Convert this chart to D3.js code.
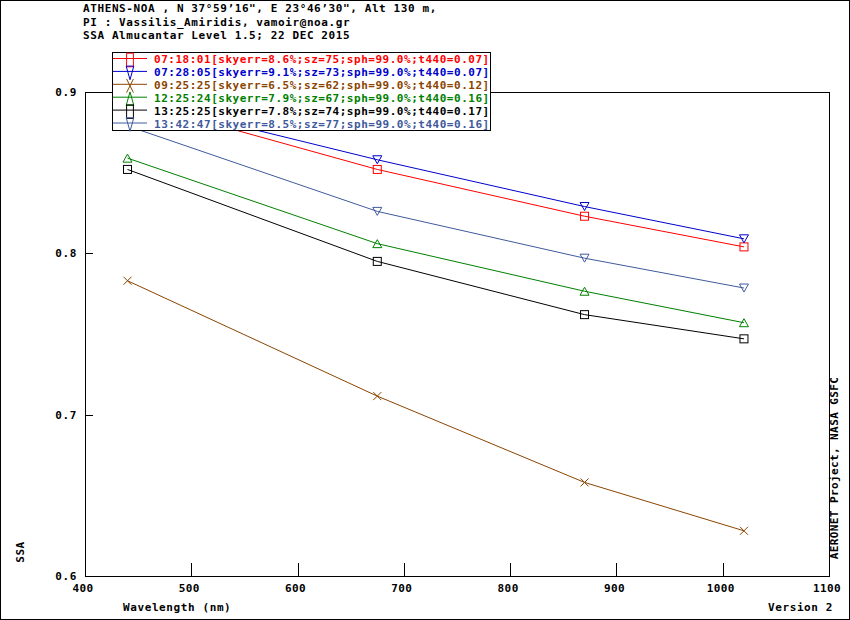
<!DOCTYPE html>
<html><head><meta charset="utf-8">
<script src="https://cdn.jsdelivr.net/npm/d3@7"></script>
<style>
body{margin:0;background:#fff;}
text{font-family:"DejaVu Sans Mono",monospace;font-weight:bold;}
</style></head>
<body>
<svg id="c" width="850" height="620"></svg>
<script>
const headerLines = [
  "ATHENS-NOA , N 37\u00b059\u201916\", E 23\u00b046\u201930\", Alt 130 m,",
  "PI : Vassilis_Amiridis, vamoir@noa.gr",
  "SSA Almucantar Level 1.5; 22 DEC 2015"
];
const wavelengths = [440, 675, 870, 1020];
const seriesNames = [
  "07:18:01[skyerr=8.6%;sz=75;sph=99.0%;t440=0.07]",
  "07:28:05[skyerr=9.1%;sz=73;sph=99.0%;t440=0.07]",
  "09:25:25[skyerr=6.5%;sz=62;sph=99.0%;t440=0.12]",
  "12:25:24[skyerr=7.9%;sz=67;sph=99.0%;t440=0.16]",
  "13:25:25[skyerr=7.8%;sz=74;sph=99.0%;t440=0.17]",
  "13:42:47[skyerr=8.5%;sz=77;sph=99.0%;t440=0.16]"
];
const s0718 = [0.895, 0.852, 0.823, 0.804];
const s0728 = [0.896, 0.858, 0.829, 0.809];
const s0925 = [0.783, 0.7115, 0.658, 0.628];
const s1225 = [0.859, 0.806, 0.7765, 0.757];
const s1325 = [0.852, 0.795, 0.762, 0.747];
const s1342 = [0.879, 0.826, 0.797, 0.7785];
const seriesValues = [s0718, s0728, s0925, s1225, s1325, s1342];
const seriesColors = ["#ff0000", "#0000cc", "#8b4500", "#008000", "#000000", "#3f5a9c"];
const seriesMarkers = ["square", "down", "x", "up", "square", "down"];
const xTicks = [400, 500, 600, 700, 800, 900, 1000, 1100];
const yTicks = [0.6, 0.7, 0.8, 0.9];

const svg = d3.select("#c");
const x = d3.scaleLinear().domain([400, 1100]).range([85, 829]);
const y = d3.scaleLinear().domain([0.6, 0.9]).range([576, 92]);

// outer border
svg.append("rect").attr("x",0.5).attr("y",0.5).attr("width",849).attr("height",619)
  .attr("fill","#fff").attr("stroke","#000").attr("shape-rendering","crispEdges");

// header
svg.selectAll(".hdr").data(headerLines).join("text")
  .attr("x",83).attr("y",(d,i)=>12+i*13.7)
  .attr("font-size",11).attr("letter-spacing",0.6).attr("fill","#000")
  .text(d=>d);

// frame
svg.append("rect").attr("x",x(400)+0.5).attr("y",y(0.9)+0.5)
  .attr("width",x(1100)-x(400)).attr("height",y(0.6)-y(0.9))
  .attr("fill","none").attr("stroke","#000").attr("shape-rendering","crispEdges");

// x ticks
const inner = xTicks.filter(t=>t>400 && t<1100);
svg.selectAll(".xt").data(inner).join("line")
  .attr("x1",d=>Math.round(x(d))+0.5).attr("x2",d=>Math.round(x(d))+0.5)
  .attr("y1",y(0.6)).attr("y2",y(0.6)-13).attr("stroke","#000").attr("shape-rendering","crispEdges");
svg.selectAll(".xl").data(xTicks).join("text")
  .attr("x",d=>x(d)-2).attr("y",592).attr("text-anchor","middle")
  .attr("font-size",11).attr("letter-spacing",0.4).text(d=>d);

// y ticks
const yin = yTicks.filter(t=>t>0.6 && t<0.9);
svg.selectAll(".yt").data(yin).join("line")
  .attr("x1",x(400)).attr("x2",x(400)+8)
  .attr("y1",d=>Math.round(y(d))+0.5).attr("y2",d=>Math.round(y(d))+0.5)
  .attr("stroke","#000").attr("shape-rendering","crispEdges");
svg.selectAll(".yl").data(yTicks).join("text")
  .attr("x",77).attr("y",d=>y(d)+4).attr("text-anchor","end")
  .attr("font-size",11).attr("letter-spacing",0.6).text(d=>d.toFixed(1));

// axis titles
svg.append("text").attr("x",123).attr("y",611).attr("font-size",11).attr("letter-spacing",0.6).text("Wavelength (nm)");
svg.append("text").attr("x",768).attr("y",611).attr("font-size",11).attr("letter-spacing",0.6).text("Version 2");
svg.append("text").attr("transform","translate(24,552) rotate(-90)").attr("text-anchor","middle")
  .attr("font-size",11).attr("letter-spacing",0.6).text("SSA");
svg.append("text").attr("transform","translate(838,468) rotate(-90)").attr("text-anchor","middle")
  .attr("font-size",11).attr("letter-spacing",0.4).text("AERONET Project, NASA GSFC");

function marker(g, type, color){
  if(type==="square"){
    g.append("rect").attr("x",-4).attr("y",-4).attr("width",8).attr("height",8)
      .attr("fill","none").attr("stroke",color);
  } else if(type==="down"){
    g.append("path").attr("d","M-4.5,-4L4.5,-4L0,4Z").attr("fill","none").attr("stroke",color);
  } else if(type==="up"){
    g.append("path").attr("d","M-4.5,4L4.5,4L0,-4Z").attr("fill","none").attr("stroke",color);
  } else {
    g.append("path").attr("d","M-4,-4L4,4M-4,4L4,-4").attr("fill","none").attr("stroke",color);
  }
}

const line = d3.line().x(d=>x(d[0])).y(d=>y(d[1]));
seriesValues.forEach((vals,i)=>{
  const pts = wavelengths.map((w,j)=>[w, vals[j]]);
  svg.append("path").attr("d",line(pts)).attr("fill","none")
    .attr("stroke",seriesColors[i]).attr("stroke-width",1);
  pts.forEach(p=>{
    const g = svg.append("g").attr("transform",`translate(${x(p[0])},${y(p[1])})`);
    marker(g, seriesMarkers[i], seriesColors[i]);
  });
});

// legend
const lg = svg.append("g");
lg.append("rect").attr("x",112.5).attr("y",52.5).attr("width",378).attr("height",78)
  .attr("fill","#fff").attr("stroke","#000").attr("shape-rendering","crispEdges");
seriesNames.forEach((nm,i)=>{
  const yy = 58.5 + i*12.9;
  lg.append("line").attr("x1",113).attr("x2",147).attr("y1",yy).attr("y2",yy)
    .attr("stroke",seriesColors[i]);
  const g = lg.append("g").attr("transform",`translate(130,${yy+1.5}) scale(0.85,1.7)`);
  marker(g, seriesMarkers[i], seriesColors[i]);
  g.selectAll("*").attr("vector-effect","non-scaling-stroke");
  lg.append("text").attr("x",154).attr("y",yy+4.5).attr("font-size",11).attr("letter-spacing",0.52)
    .attr("fill",seriesColors[i]).text(nm);
});
</script>
</body></html>
